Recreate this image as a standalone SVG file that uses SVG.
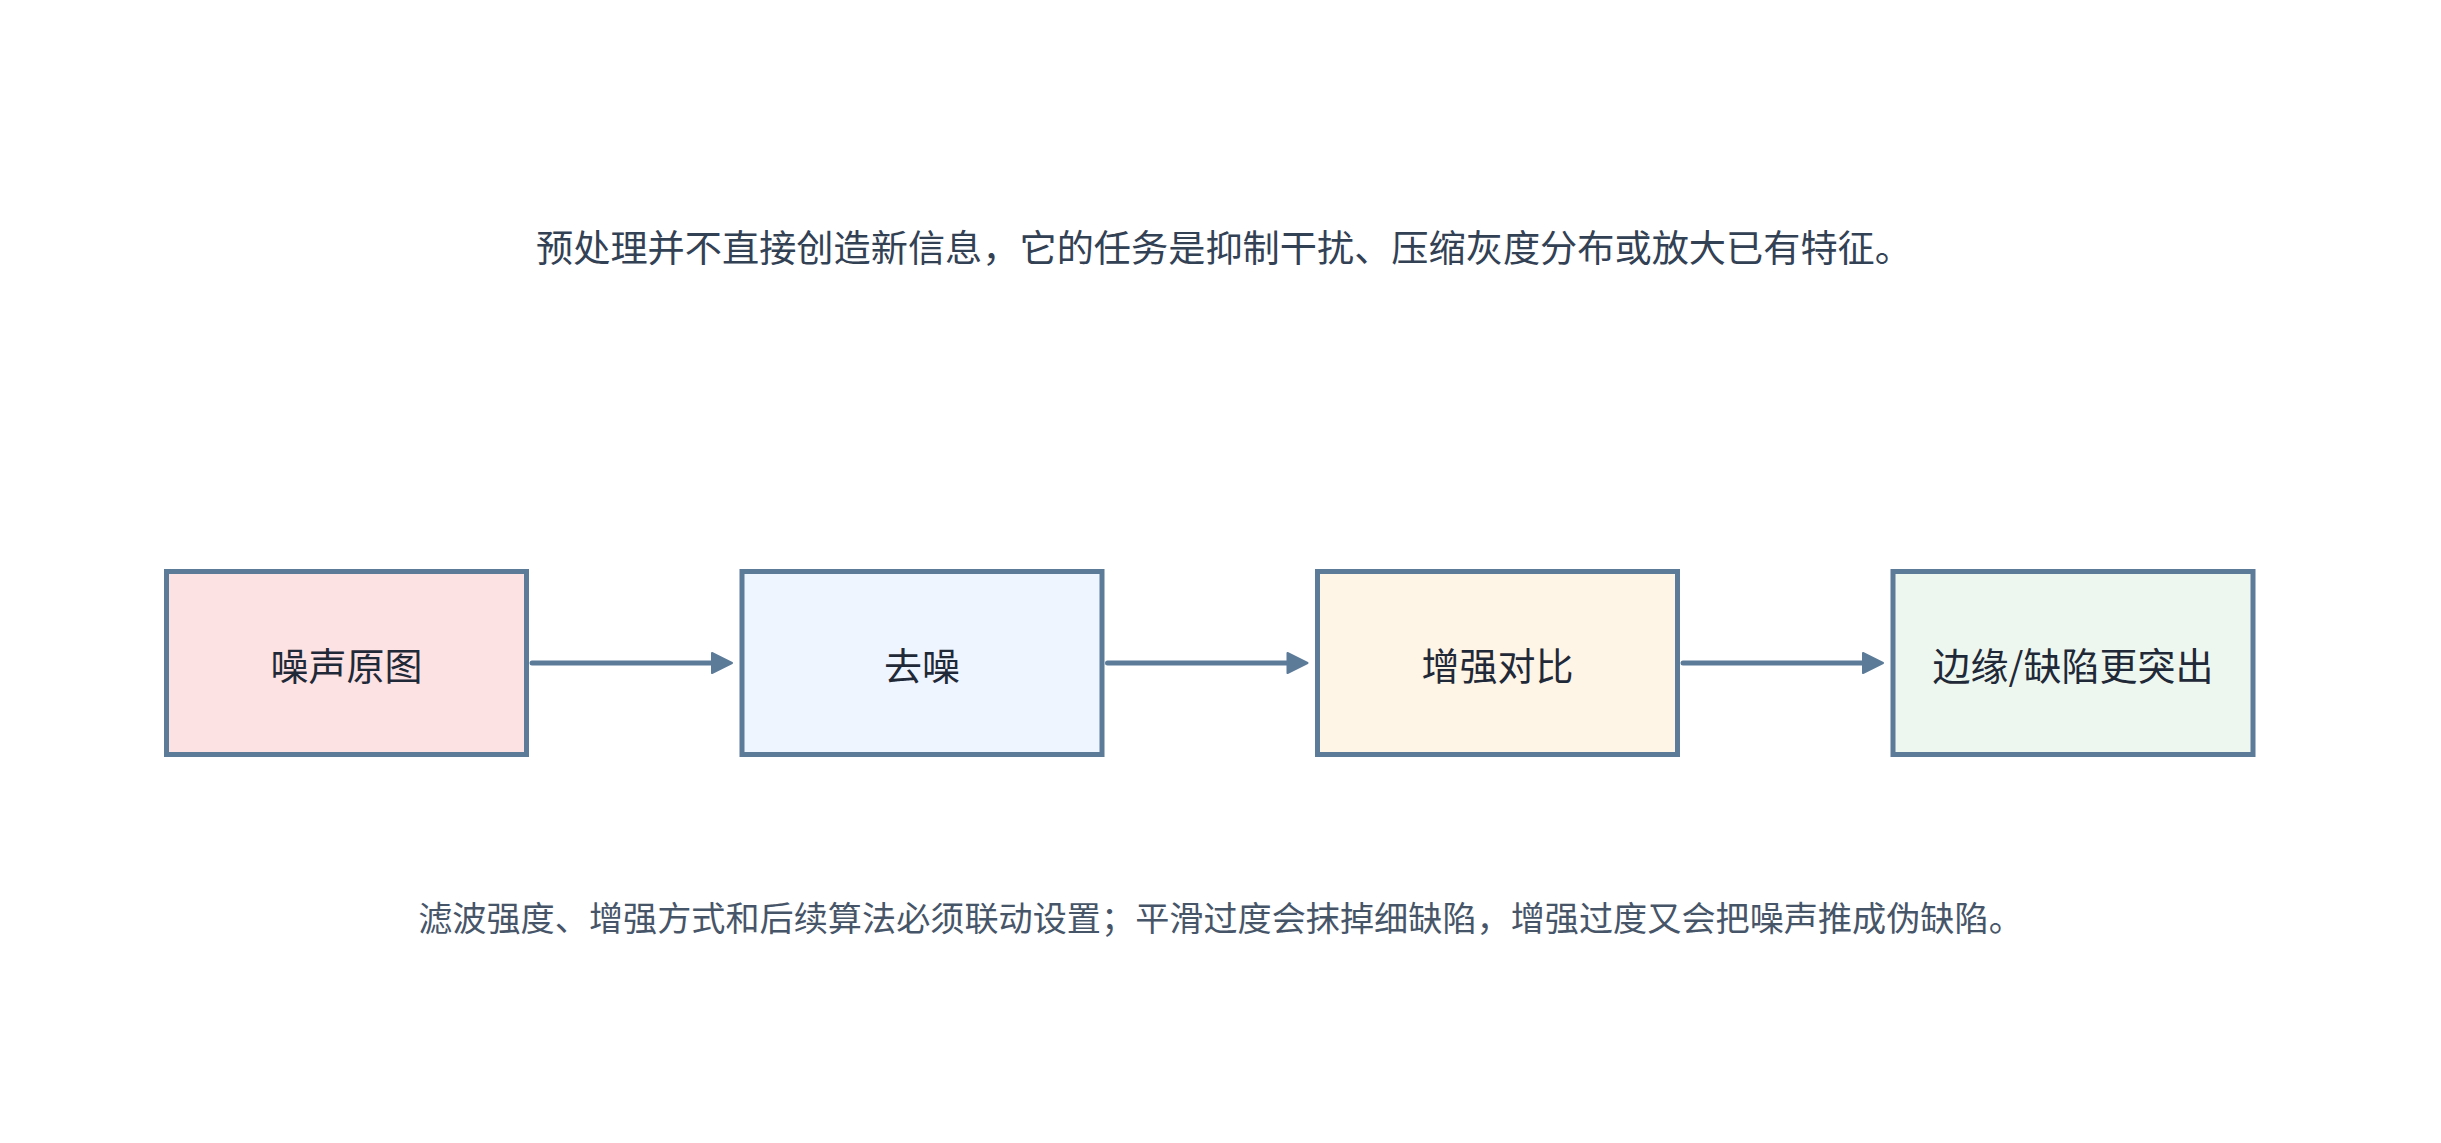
<svg xmlns="http://www.w3.org/2000/svg" width="2441" height="1143" viewBox="0 0 2441 1143">
  <defs>
    <style>
      .node rect { stroke: #5b7b99; stroke-width: 5; }
      .node text { font-family: "Noto Sans CJK SC", "Noto Sans", sans-serif; font-size: 38px; fill: #1f2937; text-anchor: middle; dominant-baseline: central; }
      .edge { stroke: #5b7b99; stroke-width: 5; stroke-linecap: round; fill: none; }
      .note { font-family: "Noto Sans CJK SC", "Noto Sans", sans-serif; text-anchor: middle; dominant-baseline: central; }
    </style>
    <marker id="arrow" markerUnits="userSpaceOnUse" viewBox="0 0 24 24" markerWidth="24" markerHeight="24" refX="10" refY="12" orient="auto">
      <path d="M2,2 L22,12 L2,22 Z" fill="#5b7b99" stroke="#5b7b99" stroke-width="2" stroke-linejoin="round"/>
    </marker>
  </defs>
  <rect width="2441" height="1143" fill="#ffffff"/>

  <text class="note" x="1224" y="246" font-size="37.2" fill="#334155">预处理并不直接创造新信息，它的任务是抑制干扰、压缩灰度分布或放大已有特征。</text>

  <g id="connectors">
    <line class="edge" x1="532" y1="663" x2="720" y2="663" marker-end="url(#arrow)"/>
    <line class="edge" x1="1107.5" y1="663" x2="1295.5" y2="663" marker-end="url(#arrow)"/>
    <line class="edge" x1="1683" y1="663" x2="1871" y2="663" marker-end="url(#arrow)"/>
  </g>

  <g id="node1" class="node">
    <rect x="166.5" y="571.5" width="360" height="183" fill="#fde2e3"/>
    <text x="346.5" y="663">噪声原图</text>
  </g>
  <g id="node2" class="node">
    <rect x="742" y="571.5" width="360" height="183" fill="#eef5fe"/>
    <text x="922" y="663">去噪</text>
  </g>
  <g id="node3" class="node">
    <rect x="1317.5" y="571.5" width="360" height="183" fill="#fff5e7"/>
    <text x="1497.5" y="663">增强对比</text>
  </g>
  <g id="node4" class="node">
    <rect x="1893" y="571.5" width="360" height="183" fill="#edf7ef"/>
    <text x="2073" y="663">边缘/缺陷更突出</text>
  </g>

  <text class="note" x="1220.5" y="915.5" font-size="34.15" fill="#475569">滤波强度、增强方式和后续算法必须联动设置；平滑过度会抹掉细缺陷，增强过度又会把噪声推成伪缺陷。</text>
</svg>
